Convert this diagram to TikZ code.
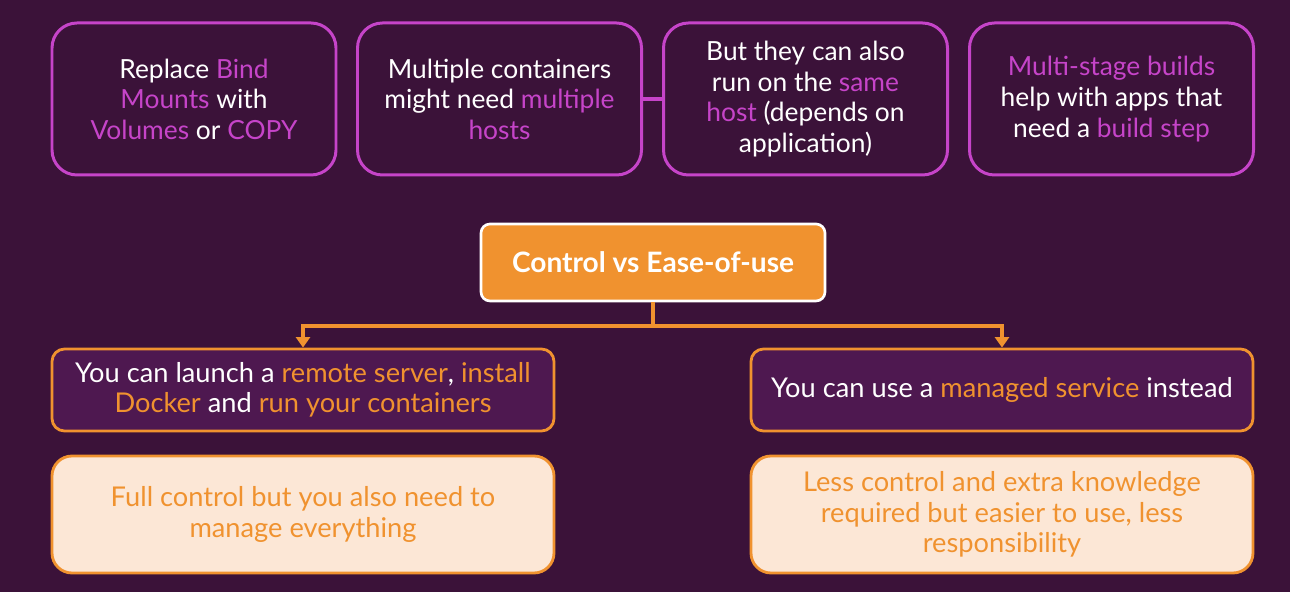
\documentclass[tikz,border=0pt]{standalone}
\usepackage{fontspec}
\setmainfont{Lato}
\usetikzlibrary{arrows.meta}

\definecolor{bgpurple}{HTML}{3B1239}
\definecolor{boxpurple}{HTML}{4E1850}
\definecolor{hlmagenta}{HTML}{C644C9}
\definecolor{hlorange}{HTML}{F0922F}
\definecolor{cream}{HTML}{FCE7D6}

\newcommand{\hm}[1]{\textcolor{hlmagenta}{#1}}
\newcommand{\ho}[1]{\textcolor{hlorange}{#1}}

\tikzset{
    topbox/.style={draw=hlmagenta, line width=1.7pt, fill=bgpurple, rounded corners=0.5cm,
        minimum width=5.68cm, minimum height=3.04cm, align=center, text=white,
        font=\fontsize{15}{17.4}\selectfont},
    ctrlbox/.style={draw=white, line width=1.5pt, fill=hlorange, rounded corners=0.18cm,
        minimum width=6.88cm, minimum height=1.54cm, text=white,
        font=\fontsize{16}{18}\selectfont\bfseries},
    optbox/.style={draw=hlorange, line width=1.6pt, fill=boxpurple, rounded corners=0.25cm,
        minimum width=10.04cm, minimum height=1.64cm, align=center, text=white,
        font=\fontsize{15.5}{17.4}\selectfont},
    notebox/.style={draw=hlorange, line width=1.6pt, fill=cream, rounded corners=0.4cm,
        minimum width=10.04cm, minimum height=2.34cm, align=center, text=hlorange,
        font=\fontsize{15.5}{17.4}\selectfont},
    branch/.style={draw=hlorange, line width=2.2pt}
}

\begin{document}
\begin{tikzpicture}[>={Triangle[width=8pt,length=6pt]}]

    % nền
    \fill[bgpurple] (0,0) rectangle (25.8,11.84);
    \useasboundingbox (0,0) rectangle (25.8,11.84);

    % =================================================================
    % HÀNG TRÊN: BỐN Ô GHI CHÚ
    % =================================================================
    \node[topbox] (bind) at (3.88,9.86) {Replace \hm{Bind}\\ \hm{Mounts} with\\ \hm{Volumes} or \hm{COPY}};
    \node[topbox] (hosts) at (9.99,9.86) {Multiple containers\\ might need \hm{multiple}\\ \hm{hosts}};
    \node[topbox] (same) at (16.11,9.86) {But they can also\\ run on the \hm{same}\\ \hm{host} (depends on\\ application)};
    \node[topbox] (multi) at (22.23,9.86) {\hm{Multi-stage builds}\\ help with apps that\\ need a \hm{build step}};

    % Đường nối giữa hai ô
    \draw[hlmagenta, line width=2.4pt] (hosts.east) -- (same.west);

    % =================================================================
    % Ô GIỮA VÀ HAI NHÁNH
    % =================================================================
    \node[ctrlbox] (ctrl) at (13.06,6.59) {Control vs Ease-of-use};

    \node[optbox] (remote) at (6.06,4.04) {You can launch a \ho{remote server}, \ho{install}\\ \ho{Docker} and \ho{run your containers}};
    \node[optbox] (managed) at (20.04,4.04) {You can use a \ho{managed service} instead};

    \node[notebox] (full) at (6.06,1.55) {Full control but you also need to\\ manage everything};
    \node[notebox] (less) at (20.04,1.55) {Less control and extra knowledge\\ required but easier to use, less\\ responsibility};

    % Mũi tên rẽ nhánh
    \coordinate (split) at (13.06,5.32);
    \draw[branch] (ctrl.south) -- (split);
    \draw[branch, ->] (split) -| (remote.north);
    \draw[branch, ->] (split) -| (managed.north);

\end{tikzpicture}
\end{document}
